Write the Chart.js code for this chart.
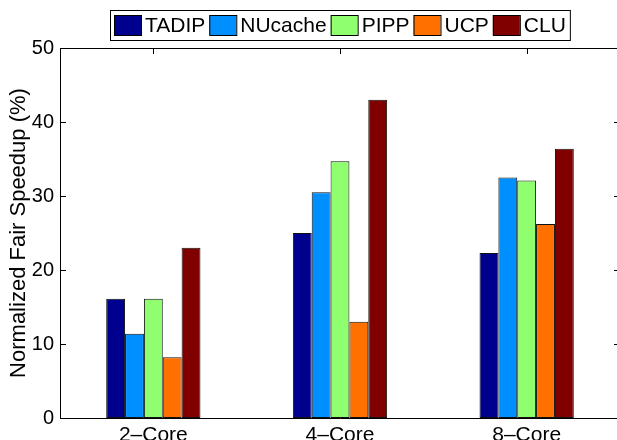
<!DOCTYPE html>
<html>
<head>
<meta charset="utf-8">
<script src="https://cdn.jsdelivr.net/npm/chart.js@4"></script>
<style>
  html, body { margin: 0; padding: 0; background: #fff; overflow: hidden; }
  #wrap { width: 622px; height: 455px; }
</style>
</head>
<body>
<div id="wrap"><canvas id="fairChart" width="622" height="455"></canvas></div>
<script>
const categories = ['2\u2013Core', '4\u2013Core', '8\u2013Core'];
const tadip   = [16.1, 25.0, 22.3];
const nucache = [11.4, 30.5, 32.5];
const pipp    = [16.1, 34.7, 32.1];
const ucp     = [8.2, 13.0, 26.2];
const clu     = [23.0, 43.0, 36.4];
const yTicks  = [0, 10, 20, 30, 40, 50];

const FONT = '"Liberation Sans", Arial, Helvetica, sans-serif';

// MATLAB-style box: top/right edges plus inward ticks on all four sides
const framePlugin = {
  id: 'frame',
  beforeDatasetsDraw(chart) {
    const { ctx, chartArea: a, scales: { x, y } } = chart;
    const len = 6;
    ctx.save();
    ctx.strokeStyle = '#000';
    ctx.lineWidth = 1;
    ctx.beginPath();
    ctx.moveTo(a.left, a.top + 0.5); ctx.lineTo(a.right, a.top + 0.5);
    ctx.moveTo(a.right - 0.5, a.top); ctx.lineTo(a.right - 0.5, a.bottom);
    y.ticks.forEach((t, i) => {
      const py = Math.round(y.getPixelForTick(i)) + 0.5;
      ctx.moveTo(a.left, py); ctx.lineTo(a.left + len, py);
      ctx.moveTo(a.right, py); ctx.lineTo(a.right - len, py);
    });
    x.ticks.forEach((t, i) => {
      const px = Math.round(x.getPixelForTick(i)) + 0.5;
      ctx.moveTo(px, a.top); ctx.lineTo(px, a.top + len);
      ctx.moveTo(px, a.bottom); ctx.lineTo(px, a.bottom - len);
    });
    ctx.stroke();
    ctx.restore();
  }
};

// boxed horizontal legend above the axes
const boxLegend = {
  id: 'boxLegend',
  afterDraw(chart) {
    const { ctx, chartArea: a } = chart;
    const sw = 27, sh = 20, gap = 4, pad = 4, top = 10, boxH = 30;
    ctx.save();
    ctx.font = '21px ' + FONT;
    const items = chart.data.datasets.map(d => ({
      label: d.label, color: d.backgroundColor, w: ctx.measureText(d.label).width
    }));
    let total = pad * 2 + gap * (items.length - 1);
    items.forEach(it => { total += sw + gap + it.w; });
    const left = Math.round((a.left + a.right) / 2 - total / 2);
    ctx.strokeStyle = '#000';
    ctx.lineWidth = 1;
    ctx.fillStyle = '#fff';
    ctx.fillRect(left, top, total, boxH);
    ctx.strokeRect(left + 0.5, top + 0.5, total, boxH);
    let cx = left + pad;
    const sy = top + (boxH - sh) / 2;
    items.forEach(it => {
      ctx.fillStyle = it.color;
      ctx.fillRect(cx, sy, sw, sh);
      ctx.strokeRect(cx + 0.5, sy + 0.5, sw, sh);
      cx += sw + gap;
      ctx.fillStyle = '#000';
      ctx.textBaseline = 'middle';
      ctx.textAlign = 'left';
      ctx.fillText(it.label, cx, top + boxH / 2 + 1);
      cx += it.w + gap;
    });
    ctx.restore();
  }
};

function bar(label, data, color) {
  return {
    label: label,
    data: data,
    backgroundColor: color,
    borderColor: '#111',
    borderWidth: 1,
    borderSkipped: false,
    categoryPercentage: 0.505,
    barPercentage: 1.0
  };
}

new Chart(document.getElementById('fairChart'), {
  type: 'bar',
  data: {
    labels: categories,
    datasets: [
      bar('TADIP', tadip, '#00008F'),
      bar('NUcache', nucache, '#008FFF'),
      bar('PIPP', pipp, '#8FFF70'),
      bar('UCP', ucp, '#FF7000'),
      bar('CLU', clu, '#800000')
    ]
  },
  options: {
    responsive: false,
    animation: false,
    devicePixelRatio: 1,
    layout: { padding: { top: 48, left: 0, right: 2, bottom: 0 } },
    plugins: { legend: { display: false }, tooltip: { enabled: false } },
    scales: {
      x: {
        grid: { display: false, drawTicks: false },
        border: { display: true, color: '#000', width: 1 },
        ticks: { color: '#000', padding: 5, font: { family: FONT, size: 21 } },
        afterFit(scale) { scale.height = 37; }
      },
      y: {
        min: 0,
        max: 50,
        afterBuildTicks(scale) { scale.ticks = yTicks.map(v => ({ value: v })); },
        grid: { display: false, drawTicks: false },
        border: { display: true, color: '#000', width: 1 },
        ticks: { color: '#000', padding: 6, font: { family: FONT, size: 20 } },
        title: {
          display: true,
          text: 'Normalized Fair Speedup (%)',
          color: '#000',
          padding: { top: 6, bottom: 0 },
          font: { family: FONT, size: 22 }
        },
        afterFit(scale) { scale.width = 60; }
      }
    }
  },
  plugins: [framePlugin, boxLegend]
});
</script>
</body>
</html>
